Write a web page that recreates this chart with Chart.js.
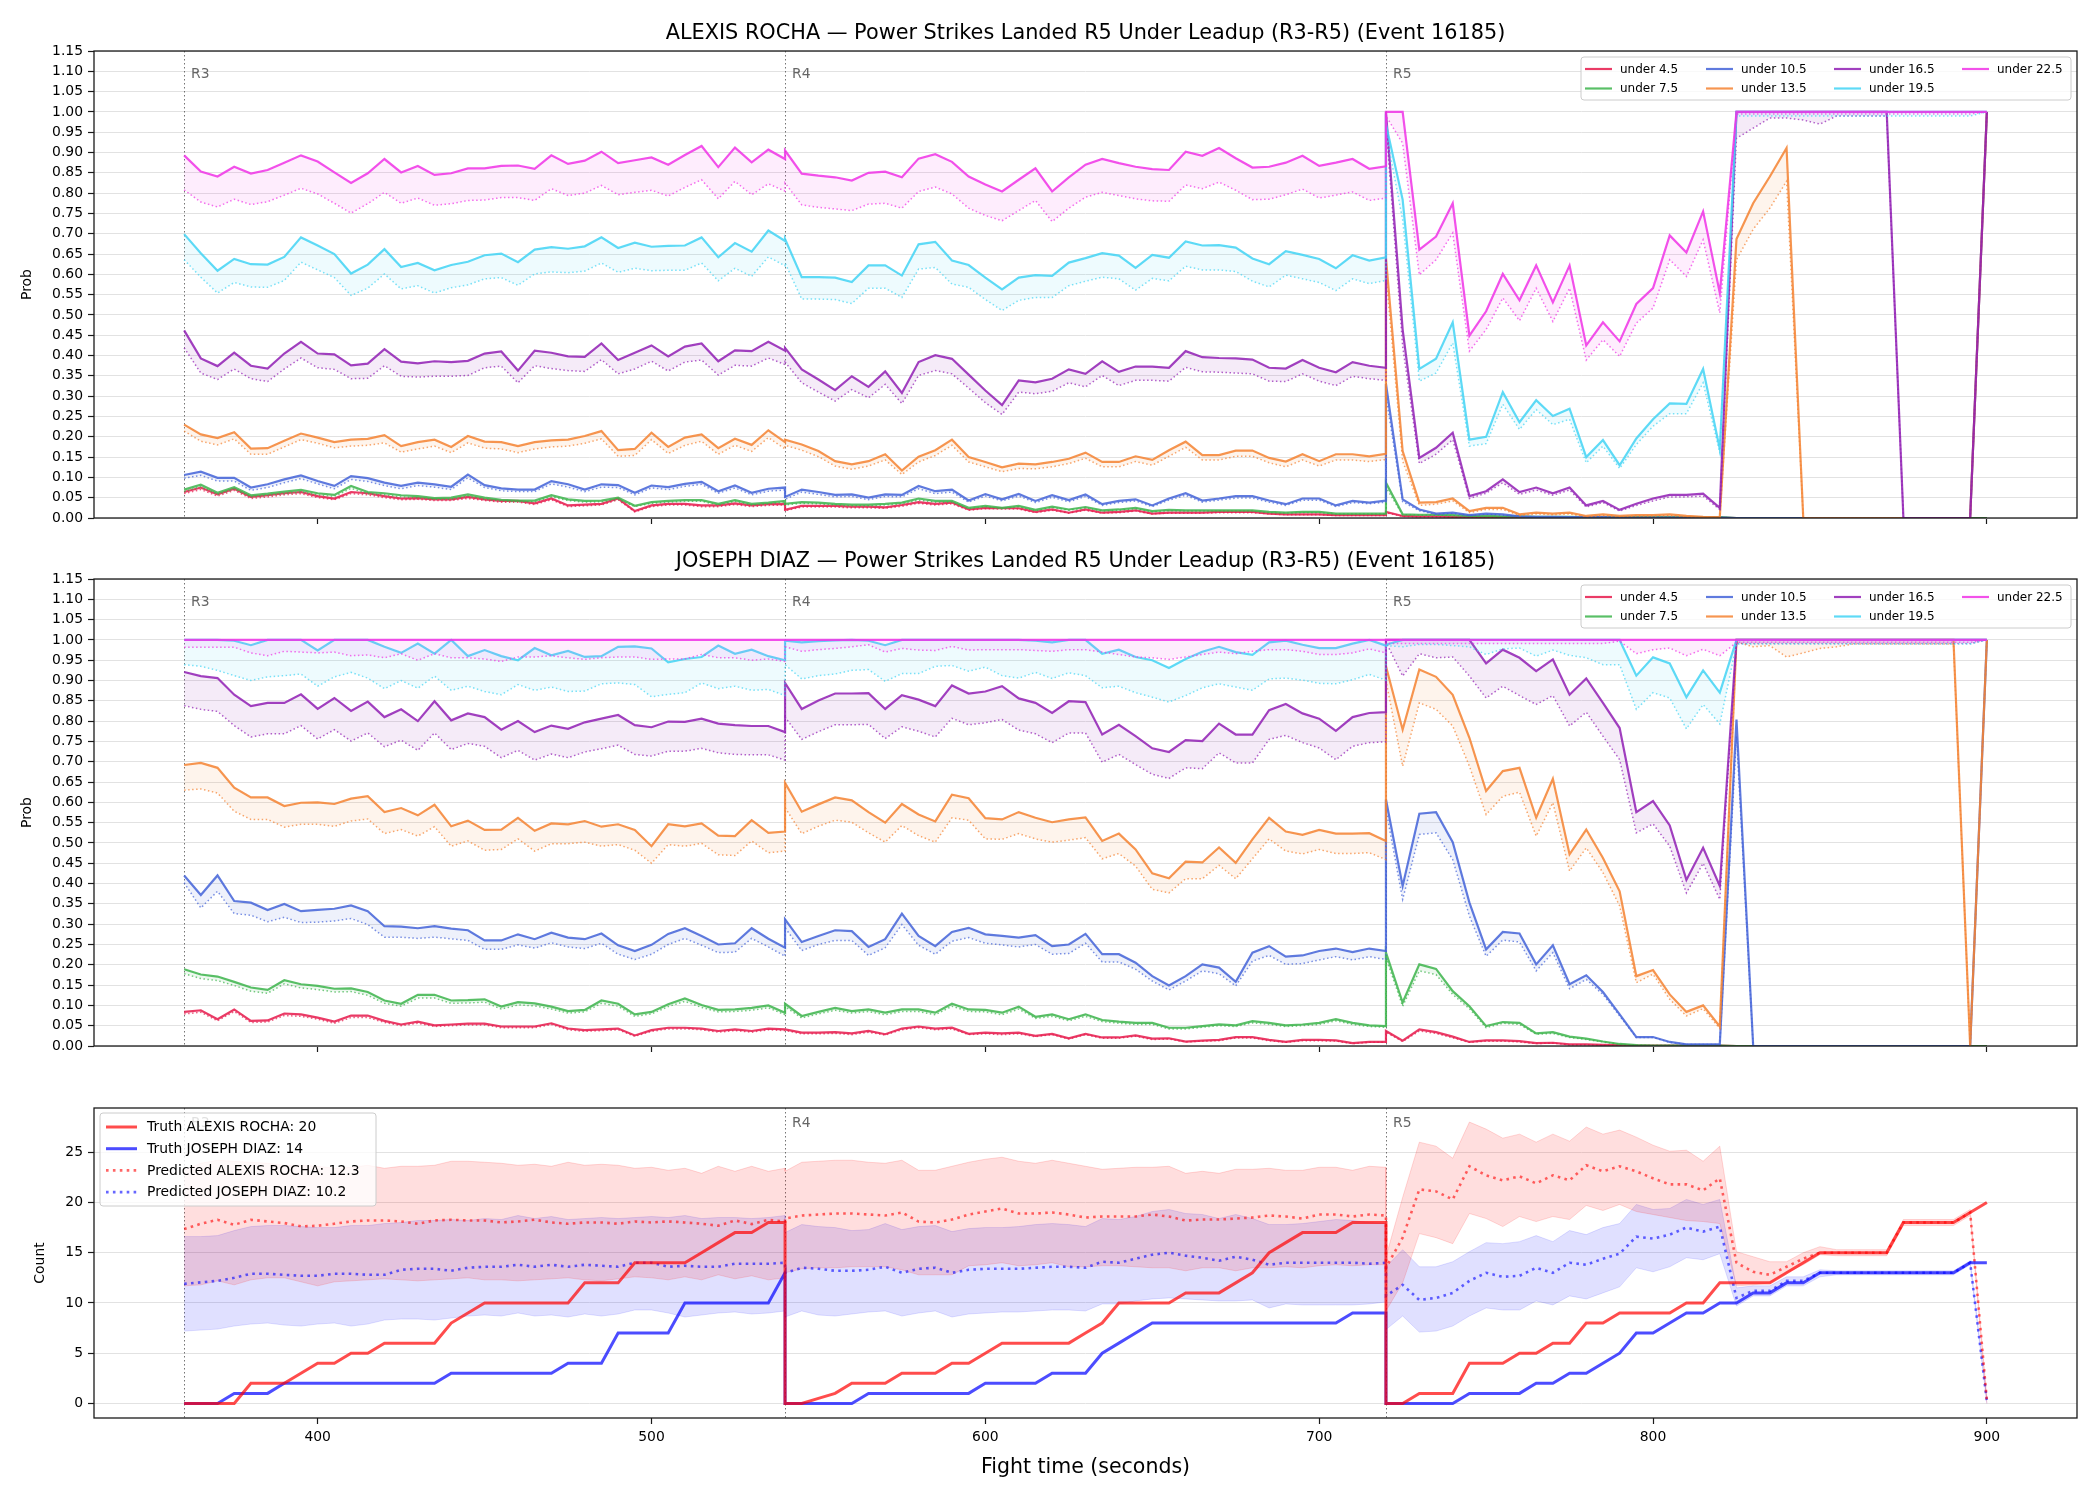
<!DOCTYPE html>
<html><head><meta charset="utf-8">
<script src="https://cdn.jsdelivr.net/npm/chart.js@4.4.0/dist/chart.umd.min.js"></script>
<style>
html,body{margin:0;padding:0;background:#fff;}
#wrap{position:relative;width:2100px;height:1500px;background:#fff;}
canvas{position:absolute;left:0;top:0;}
</style></head><body>
<div id="wrap">
<canvas id="c1" width="2100" height="1500"></canvas>
<canvas id="c2" width="2100" height="1500"></canvas>
<canvas id="c3" width="2100" height="1500"></canvas>
</div>
<script>
// ---------- categories / ticks ----------
const roundStarts = [360, 540, 720];
const roundNames = ['R3', 'R4', 'R5'];
const roundOffsets = [0,5,10,15,20,25,30,35,40,45,50,55,60,65,70,75,80,85,90,95,100,105,110,115,120,125,130,135,140,145,150,155,160,165,170,175,180];
const xTicks = [400, 500, 600, 700, 800, 900];
const probTicks = [0,0.05,0.1,0.15,0.2,0.25,0.3,0.35,0.4,0.45,0.5,0.55,0.6,0.65,0.7,0.75,0.8,0.85,0.9,0.95,1.0,1.05,1.1,1.15];
const countTicks = [0, 5, 10, 15, 20, 25];
const thresholdLabels = ['under 4.5','under 7.5','under 10.5','under 13.5','under 16.5','under 19.5','under 22.5'];

// ---------- ALEXIS ROCHA (top panel) ----------
const rocha_u4_5 = [
.064,.075,.058,.072,.052,.056,.061,.064,.054,.048,.064,.061,.054,.048,.049,.046,.046,.052,.046,.042,.042,.036,.048,.031,.033,.035,.048,.017,.031,.035,.035,.031,.031,.036,.031,.034,.035,
.020,.030,.030,.030,.028,.028,.026,.032,.039,.035,.038,.021,.025,.024,.024,.015,.021,.013,.021,.013,.015,.019,.011,.013,.013,.013,.015,.015,.015,.011,.009,.009,.009,.007,.007,.007,.007,
.015,.005,.004,.004,.003,.002,.003,.002,.002,.001,.001,.001,.001,.001,.001,.001,.001,.001,.001,.001,.001,0,0,0,0,0,0,0,0,0,0,0,0,0,0,0,0];
const rocha_u4_5_dot = [
.060,.070,.054,.068,.048,.052,.057,.060,.050,.045,.060,.057,.050,.045,.046,.043,.043,.048,.043,.039,.039,.033,.045,.028,.030,.032,.045,.015,.028,.032,.032,.028,.028,.033,.028,.031,.032,
.018,.027,.027,.027,.025,.025,.024,.029,.036,.032,.035,.019,.023,.022,.022,.013,.019,.012,.019,.012,.013,.017,.010,.012,.012,.012,.013,.013,.013,.010,.008,.008,.008,.006,.006,.006,.006,
.013,.004,.003,.003,.002,.002,.002,.001,.001,.001,.001,.001,.001,.001,.001,.001,.001,.001,.001,.001,.001,0,0,0,0,0,0,0,0,0,0,0,0,0,0,0,0];
const rocha_u7_5 = [
.070,.082,.062,.076,.056,.060,.065,.069,.061,.057,.079,.064,.061,.056,.054,.049,.050,.058,.050,.045,.043,.043,.056,.046,.042,.043,.050,.030,.039,.042,.044,.044,.035,.044,.035,.038,.042,
.035,.039,.038,.035,.033,.033,.035,.038,.048,.042,.042,.025,.030,.025,.030,.020,.028,.021,.027,.019,.021,.025,.017,.020,.019,.019,.019,.019,.019,.015,.013,.015,.015,.011,.011,.011,.011,
.087,.009,.008,.008,.007,.005,.005,.004,.004,.003,.003,.003,.002,.002,.002,.002,.002,.002,.002,.002,.002,0,0,0,0,0,0,0,0,0,0,0,0,0,0,0,0];
const rocha_u7_5_dot = [
.065,.077,.058,.071,.052,.056,.060,.064,.057,.053,.073,.060,.057,.052,.050,.046,.046,.054,.046,.042,.040,.040,.052,.043,.039,.040,.046,.028,.036,.039,.041,.041,.032,.041,.032,.035,.039,
.032,.036,.035,.032,.030,.030,.032,.035,.044,.039,.039,.023,.028,.023,.028,.018,.026,.019,.025,.017,.019,.023,.015,.018,.017,.017,.017,.017,.017,.013,.012,.013,.013,.010,.010,.010,.010,
.075,.008,.007,.007,.006,.004,.004,.003,.003,.003,.002,.002,.002,.002,.002,.002,.002,.002,.002,.002,.002,0,0,0,0,0,0,0,0,0,0,0,0,0,0,0,0];
const rocha_u10_5 = [
.106,.114,.099,.099,.075,.083,.095,.105,.091,.079,.103,.098,.087,.079,.087,.083,.077,.107,.081,.073,.070,.070,.091,.083,.070,.083,.081,.062,.080,.076,.084,.089,.066,.080,.062,.072,.075,
.052,.070,.064,.057,.058,.050,.058,.057,.079,.066,.070,.043,.059,.046,.059,.042,.056,.044,.058,.034,.042,.046,.031,.048,.061,.043,.048,.054,.054,.043,.034,.048,.048,.031,.042,.038,.043,
.330,.046,.021,.011,.013,.007,.011,.009,.004,.003,.003,.002,.002,.002,.001,.001,.001,.001,.001,.001,.001,0,0,0,0,0,0,0,0,0,0,0,0,0,0,0,1.0];
const rocha_u10_5_dot = [
.098,.105,.091,.091,.068,.075,.087,.097,.084,.072,.095,.090,.080,.072,.080,.076,.070,.099,.075,.067,.065,.065,.084,.076,.065,.076,.075,.057,.074,.070,.078,.083,.061,.074,.057,.066,.069,
.046,.064,.058,.052,.053,.045,.053,.052,.072,.060,.064,.039,.054,.042,.054,.038,.051,.040,.053,.031,.038,.042,.028,.044,.056,.039,.044,.049,.049,.039,.031,.044,.044,.028,.038,.035,.039,
.300,.040,.018,.009,.011,.006,.009,.007,.003,.003,.002,.002,.002,.001,.001,.001,.001,.001,.001,.001,.001,0,0,0,0,0,0,0,0,0,0,0,0,0,0,0,1.0];
const rocha_u13_5 = [
.230,.206,.197,.211,.171,.172,.190,.208,.198,.187,.193,.195,.204,.177,.187,.193,.175,.202,.188,.187,.177,.187,.191,.193,.202,.214,.167,.170,.210,.175,.198,.206,.172,.195,.180,.216,.187,
.193,.181,.165,.140,.132,.140,.157,.117,.151,.167,.193,.150,.138,.125,.134,.132,.138,.146,.161,.138,.138,.152,.143,.167,.188,.155,.155,.166,.166,.148,.139,.157,.140,.157,.157,.152,.158,
.640,.165,.038,.039,.048,.017,.025,.025,.009,.013,.011,.013,.005,.009,.005,.007,.007,.009,.005,.003,.002,.687,.775,.841,.911,0,0,0,0,0,0,0,0,0,0,0,1.0];
const rocha_u13_5_dot = [
.214,.189,.180,.195,.157,.157,.175,.193,.184,.173,.177,.179,.185,.162,.170,.177,.161,.185,.172,.170,.161,.170,.175,.177,.184,.195,.152,.154,.193,.159,.179,.189,.157,.179,.164,.198,.170,
.179,.167,.151,.128,.120,.128,.143,.107,.138,.154,.179,.138,.126,.114,.122,.121,.126,.134,.147,.126,.126,.139,.130,.152,.174,.143,.143,.152,.152,.136,.126,.143,.128,.143,.143,.139,.144,
.600,.140,.031,.034,.042,.013,.021,.021,.006,.010,.008,.010,.003,.006,.003,.005,.005,.006,.003,.002,.001,.636,.711,.763,.829,0,0,0,0,0,0,0,0,0,0,0,1.0];
const rocha_u16_5 = [
.462,.393,.374,.407,.375,.368,.405,.434,.405,.403,.376,.380,.416,.385,.381,.386,.384,.387,.405,.410,.363,.412,.407,.398,.397,.430,.389,.407,.425,.398,.422,.430,.386,.413,.411,.434,.412,
.419,.366,.341,.315,.349,.323,.361,.308,.384,.401,.392,.353,.314,.278,.339,.334,.343,.366,.355,.386,.360,.373,.373,.370,.411,.396,.394,.393,.390,.370,.368,.389,.370,.359,.384,.375,.370,
1.0,.464,.148,.173,.210,.054,.066,.095,.064,.075,.061,.075,.031,.042,.020,.035,.048,.057,.057,.060,.025,1.0,1.0,1.0,1.0,1.0,1.0,1.0,1.0,1.0,1.0,0,0,0,0,0,1.0];
const rocha_u16_5_dot = [
.419,.357,.341,.367,.343,.336,.367,.394,.370,.366,.343,.344,.375,.349,.347,.349,.349,.351,.370,.374,.333,.375,.368,.363,.361,.390,.355,.367,.386,.362,.384,.389,.352,.376,.374,.394,.378,
.384,.333,.310,.288,.316,.296,.329,.282,.351,.363,.355,.320,.284,.255,.310,.306,.312,.333,.323,.351,.326,.339,.339,.337,.371,.360,.359,.357,.355,.337,.336,.355,.337,.326,.349,.343,.339,
.970,.423,.134,.157,.193,.048,.061,.087,.058,.069,.056,.069,.027,.038,.017,.031,.042,.052,.052,.054,.021,.935,.960,.985,.985,.980,.970,.990,.990,.990,.990,0,0,0,0,0,1.0];
const rocha_u19_5 = [
.699,.652,.609,.638,.625,.624,.643,.691,.671,.650,.602,.624,.662,.618,.628,.610,.623,.631,.647,.651,.630,.661,.667,.663,.669,.691,.665,.678,.668,.670,.671,.691,.642,.677,.656,.708,.682,
.687,.593,.593,.592,.581,.622,.622,.597,.674,.680,.634,.623,.592,.563,.592,.598,.596,.629,.640,.652,.646,.616,.648,.641,.681,.671,.672,.666,.639,.625,.657,.648,.638,.615,.647,.634,.642,
.970,.784,.367,.392,.482,.193,.200,.310,.236,.290,.251,.269,.150,.192,.130,.196,.243,.282,.281,.367,.170,1.0,1.0,1.0,1.0,1.0,1.0,1.0,1.0,1.0,1.0,1.0,1.0,1.0,1.0,1.0,1.0];
const rocha_u19_5_dot = [
.636,.593,.554,.580,.569,.568,.585,.630,.611,.592,.548,.566,.601,.564,.572,.554,.567,.574,.589,.592,.573,.601,.606,.604,.608,.628,.605,.615,.609,.610,.610,.628,.584,.615,.595,.643,.621,
.628,.539,.539,.538,.528,.566,.566,.543,.613,.617,.576,.568,.538,.511,.536,.543,.543,.572,.583,.593,.589,.561,.590,.584,.620,.611,.611,.607,.583,.569,.598,.589,.580,.560,.589,.577,.585,
.950,.734,.337,.357,.431,.177,.183,.280,.218,.267,.230,.243,.136,.177,.122,.181,.226,.257,.257,.333,.161,.990,.990,.990,.990,.990,.990,.990,.990,.990,.990,.990,.990,.990,.990,.990,1.0];
const rocha_u22_5 = [
.893,.853,.841,.865,.848,.857,.875,.893,.878,.851,.825,.849,.884,.851,.867,.845,.849,.861,.861,.867,.868,.860,.893,.872,.880,.902,.874,.881,.888,.870,.894,.916,.864,.912,.876,.907,.884,
.905,.848,.843,.839,.831,.850,.853,.839,.885,.896,.877,.841,.821,.804,.833,.861,.804,.839,.870,.884,.874,.865,.859,.857,.902,.892,.911,.886,.863,.865,.875,.892,.867,.875,.884,.860,.866,
1.0,1.0,.661,.693,.775,.449,.509,.601,.536,.622,.531,.622,.425,.482,.435,.527,.566,.696,.654,.755,.554,1.0,1.0,1.0,1.0,1.0,1.0,1.0,1.0,1.0,1.0,1.0,1.0,1.0,1.0,1.0,1.0];
const rocha_u22_5_dot = [
.808,.778,.766,.785,.772,.779,.795,.812,.798,.775,.751,.774,.802,.775,.788,.770,.774,.782,.783,.789,.789,.782,.811,.794,.800,.819,.796,.802,.807,.793,.814,.833,.786,.829,.796,.823,.805,
.825,.771,.765,.761,.757,.773,.775,.763,.804,.815,.798,.763,.745,.732,.757,.782,.730,.763,.790,.802,.794,.786,.781,.780,.820,.811,.827,.807,.784,.785,.796,.810,.788,.795,.803,.782,.788,
.990,.923,.599,.636,.702,.411,.464,.542,.486,.566,.484,.566,.389,.439,.398,.480,.517,.636,.595,.685,.505,.995,.995,.995,.995,.995,.995,.995,.995,.995,.995,.995,.995,.995,.995,.995,1.0];

// ---------- JOSEPH DIAZ (middle panel) ----------
const diaz_u4_5 = [
.084,.088,.066,.090,.062,.063,.080,.078,.070,.060,.075,.075,.062,.053,.060,.051,.053,.055,.055,.048,.048,.048,.056,.043,.039,.041,.043,.026,.039,.045,.045,.043,.037,.041,.037,.043,.041,
.041,.033,.033,.034,.031,.037,.029,.043,.048,.043,.045,.030,.033,.031,.033,.025,.030,.019,.030,.021,.021,.026,.018,.019,.011,.013,.015,.022,.022,.015,.010,.015,.015,.014,.007,.010,.010,
.037,.013,.041,.034,.023,.010,.014,.014,.012,.007,.008,.004,.004,.003,.002,.001,.001,.001,.001,.001,.001,0,0,0,0,0,0,0,0,0,0,0,0,0,0,0,0];
const diaz_u4_5_dot = [
.079,.083,.062,.085,.058,.059,.075,.073,.066,.056,.070,.070,.058,.050,.056,.048,.050,.052,.052,.045,.045,.045,.053,.040,.036,.038,.040,.024,.036,.042,.042,.040,.034,.038,.034,.040,.038,
.038,.030,.030,.031,.028,.034,.027,.040,.045,.040,.042,.028,.030,.028,.030,.023,.028,.017,.028,.019,.019,.024,.016,.017,.010,.012,.013,.020,.020,.013,.009,.013,.013,.012,.006,.009,.009,
.034,.011,.037,.031,.020,.009,.012,.012,.010,.006,.007,.003,.003,.002,.002,.001,.001,.001,.001,.001,.001,0,0,0,0,0,0,0,0,0,0,0,0,0,0,0,0];
const diaz_u7_5 = [
.189,.176,.171,.158,.144,.138,.162,.152,.148,.141,.142,.133,.112,.104,.126,.126,.112,.113,.115,.097,.108,.105,.097,.086,.089,.112,.104,.078,.084,.103,.117,.101,.089,.090,.094,.100,.082,
.104,.074,.084,.094,.086,.090,.082,.090,.090,.082,.104,.090,.089,.082,.097,.072,.078,.066,.078,.064,.060,.057,.057,.045,.045,.049,.053,.051,.061,.057,.051,.053,.057,.066,.057,.051,.049,
.230,.107,.201,.190,.135,.098,.049,.059,.057,.031,.034,.023,.018,.011,.005,.002,.001,.001,.001,.001,.001,0,0,0,0,0,0,0,0,0,0,0,0,0,0,0,0];
const diaz_u7_5_dot = [
.178,.166,.161,.149,.135,.130,.153,.143,.139,.133,.134,.125,.105,.098,.118,.118,.105,.106,.108,.091,.101,.099,.091,.081,.084,.105,.098,.073,.079,.097,.110,.095,.084,.085,.088,.094,.077,
.097,.069,.079,.088,.081,.085,.077,.085,.085,.077,.098,.085,.084,.077,.091,.068,.073,.062,.073,.060,.056,.053,.053,.042,.042,.046,.050,.048,.057,.053,.048,.050,.053,.062,.053,.048,.046,
.217,.098,.185,.176,.127,.092,.045,.056,.053,.029,.031,.021,.016,.010,.004,.002,.001,.001,.001,.001,.001,0,0,0,0,0,0,0,0,0,0,0,0,0,0,0,0];
const diaz_u10_5 = [
.420,.372,.420,.357,.353,.335,.350,.332,.335,.338,.346,.332,.295,.294,.290,.295,.289,.285,.260,.260,.275,.263,.279,.267,.263,.277,.248,.234,.249,.276,.290,.271,.250,.253,.290,.264,.242,
.312,.256,.271,.285,.283,.244,.263,.326,.271,.246,.281,.291,.275,.271,.267,.273,.246,.250,.276,.226,.226,.205,.172,.149,.172,.201,.193,.158,.230,.246,.220,.223,.234,.240,.231,.240,.234,
.607,.394,.572,.576,.502,.353,.238,.281,.277,.201,.248,.152,.174,.133,.078,.022,.022,.010,.004,.004,.004,.804,0,0,0,0,0,0,0,0,0,0,0,0,0,0,1.0];
const diaz_u10_5_dot = [
.402,.340,.381,.326,.322,.306,.317,.304,.305,.308,.314,.299,.268,.268,.265,.268,.264,.260,.238,.238,.249,.241,.254,.244,.240,.253,.226,.213,.226,.250,.265,.248,.230,.231,.265,.244,.221,
.291,.235,.250,.260,.260,.223,.242,.299,.248,.226,.258,.267,.253,.249,.244,.250,.226,.228,.253,.207,.207,.189,.160,.138,.160,.185,.178,.148,.209,.223,.201,.203,.212,.220,.212,.220,.213,
.582,.361,.521,.525,.459,.320,.221,.261,.256,.185,.230,.141,.164,.127,.074,.021,.021,.009,.004,.004,.004,.763,0,0,0,0,0,0,0,0,0,0,0,0,0,0,1.0];
const diaz_u13_5 = [
.692,.697,.685,.636,.612,.612,.591,.599,.600,.596,.609,.615,.576,.586,.568,.594,.541,.555,.532,.533,.562,.530,.548,.546,.554,.540,.546,.532,.492,.546,.541,.548,.518,.517,.556,.525,.528,
.648,.577,.595,.612,.605,.576,.550,.596,.570,.553,.619,.610,.561,.558,.576,.562,.551,.558,.563,.505,.523,.484,.425,.413,.454,.452,.489,.451,.509,.562,.528,.520,.532,.523,.523,.524,.505,
.935,.779,.927,.909,.865,.759,.628,.677,.685,.562,.658,.472,.533,.463,.381,.172,.187,.127,.084,.100,.048,1.0,1.0,1.0,1.0,1.0,1.0,1.0,1.0,1.0,1.0,1.0,1.0,1.0,1.0,0,1.0];
const diaz_u13_5_dot = [
.630,.633,.623,.578,.558,.558,.539,.546,.546,.541,.554,.559,.523,.533,.517,.540,.492,.505,.482,.484,.510,.480,.498,.498,.502,.492,.496,.482,.450,.496,.492,.499,.471,.469,.505,.476,.480,
.587,.523,.541,.556,.551,.525,.502,.543,.518,.502,.562,.556,.510,.509,.523,.510,.502,.507,.513,.461,.474,.443,.386,.377,.412,.412,.445,.412,.461,.510,.480,.473,.484,.474,.474,.476,.459,
.900,.689,.845,.829,.788,.689,.570,.615,.625,.517,.599,.431,.488,.427,.345,.156,.177,.115,.074,.092,.043,.995,.983,.986,.958,.968,.979,.983,.990,.990,.990,.990,.990,.990,.990,0,1.0];
const diaz_u16_5 = [
.921,.911,.906,.865,.837,.845,.845,.866,.830,.857,.825,.848,.810,.829,.800,.849,.802,.819,.810,.779,.800,.773,.789,.781,.797,.806,.815,.790,.785,.799,.798,.806,.794,.790,.788,.788,.773,
.894,.830,.851,.868,.868,.869,.830,.864,.853,.837,.888,.868,.873,.886,.856,.845,.820,.849,.847,.767,.791,.763,.733,.724,.753,.751,.794,.767,.767,.827,.842,.819,.806,.776,.810,.820,.822,
1.0,1.0,1.0,1.0,1.0,1.0,.942,.976,.956,.923,.952,.865,.905,.845,.783,.576,.603,.543,.409,.488,.394,1.0,1.0,1.0,1.0,1.0,1.0,1.0,1.0,1.0,1.0,1.0,1.0,1.0,1.0,1.0,1.0];
const diaz_u16_5_dot = [
.838,.829,.824,.789,.761,.769,.769,.789,.756,.779,.751,.771,.737,.753,.728,.771,.730,.745,.738,.710,.728,.704,.719,.710,.724,.732,.741,.718,.714,.726,.726,.733,.722,.718,.717,.717,.704,
.810,.755,.774,.791,.791,.792,.757,.786,.775,.761,.807,.791,.796,.804,.778,.769,.747,.771,.771,.699,.718,.693,.669,.659,.685,.683,.722,.697,.697,.755,.765,.747,.734,.705,.738,.747,.749,
.995,.911,.966,.956,.958,.911,.857,.886,.863,.841,.863,.788,.822,.763,.705,.525,.547,.492,.377,.450,.361,.991,.991,.991,.991,.991,.991,.991,.991,.991,.991,.991,.991,.991,.991,.991,1.0];
const diaz_u19_5 = [
1,1,1,.998,.987,1,1,1,.974,1,1,1,.983,.968,.991,.966,1,.960,.975,.960,.950,.980,.962,.973,.958,.960,.983,.984,.979,.945,.953,.958,.986,.966,.976,.960,.950,
.998,.994,.997,.999,1,.998,.987,1,1,1,1,1,1,1,1,.998,.994,1,1,.966,.976,.958,.950,.931,.953,.971,.983,.970,.963,.994,.998,.988,.980,.980,.991,1,.986,
.988,1,1,1,1,1,1,1,1,1,1,1,1,1,1,.912,.957,.942,.859,.925,.870,1,1,1,1,1,1,1,1,1,1,1,1,1,1,1,1];
const diaz_u19_5_dot = [
.939,.935,.925,.912,.900,.909,.912,.916,.886,.909,.920,.906,.880,.900,.881,.911,.876,.886,.873,.865,.890,.876,.884,.873,.874,.892,.894,.890,.860,.866,.870,.894,.880,.886,.876,.878,.863,
.939,.904,.912,.916,.925,.927,.898,.917,.917,.935,.937,.923,.933,.912,.906,.920,.905,.919,.912,.882,.886,.870,.859,.847,.863,.882,.892,.884,.876,.904,.906,.901,.893,.892,.902,.915,.901,
.986,.983,.989,.989,.986,.983,.964,.978,.980,.960,.975,.962,.956,.939,.939,.829,.870,.857,.781,.841,.793,.990,.990,.990,.990,.990,.990,.990,.990,.990,.990,.990,.990,.990,.990,.990,1.0];
const diaz_u22_5 = [
1,1,1,1,1,1,1,1,1,1,1,1,1,1,1,1,1,1,1,1,1,1,1,1,1,1,1,1,1,1,1,1,1,1,1,1,1,
1,1,1,1,1,1,1,1,1,1,1,1,1,1,1,1,1,1,1,1,1,1,1,1,1,1,1,1,1,1,1,1,1,1,1,1,1,
1,1,1,1,1,1,1,1,1,1,1,1,1,1,1,1,1,1,1,1,1,1,1,1,1,1,1,1,1,1,1,1,1,1,1,1,1];
const diaz_u22_5_dot = [
.982,.982,.982,.982,.968,.961,.972,.970,.968,.970,.961,.963,.956,.966,.950,.966,.956,.956,.953,.947,.958,.958,.961,.956,.952,.956,.958,.958,.952,.953,.953,.964,.956,.956,.950,.953,.947,
.983,.972,.976,.979,.983,.988,.970,.979,.975,.974,.984,.975,.976,.976,.976,.974,.972,.976,.976,.970,.964,.958,.956,.952,.958,.964,.970,.966,.972,.976,.976,.972,.964,.964,.968,.978,.968,
.991,.991,.991,.991,.991,.991,.991,.991,.991,.991,.991,.991,.991,.991,.997,.966,.976,.980,.961,.977,.961,.994,.994,.994,.994,.994,.994,.994,.994,.994,.994,.994,.994,.994,.994,.994,1.0];

// ---------- Counts (bottom panel) ----------
const rochaTruth = [
0,0,0,0,2,2,2,3,4,4,5,5,6,6,6,6,8,9,10,10,10,10,10,10,12,12,12,14,14,14,14,15,16,17,17,18,18,
0,0,0.5,1,2,2,2,3,3,3,4,4,5,6,6,6,6,6,7,8,10,10,10,10,11,11,11,12,13,15,16,17,17,17,18,18,18,
0,0,1,1,1,4,4,4,5,5,6,6,8,8,9,9,9,9,10,10,12,12,12,12,13,14,15,15,15,15,15,18,18,18,18,19,20];
const diazTruth = [
0,0,0,1,1,1,2,2,2,2,2,2,2,2,2,2,3,3,3,3,3,3,3,4,4,4,7,7,7,7,10,10,10,10,10,10,13,
0,0,0,0,0,1,1,1,1,1,1,1,2,2,2,2,3,3,3,5,6,7,8,8,8,8,8,8,8,8,8,8,8,8,9,9,9,
0,0,0,0,0,1,1,1,1,2,2,3,3,4,5,7,7,8,9,9,10,10,11,11,12,12,13,13,13,13,13,13,13,13,13,14,14];
const rochaPred = [
17.35,17.88,18.28,17.78,18.28,18.11,17.95,17.62,17.68,17.88,18.11,18.21,18.21,18.11,17.88,18.21,18.28,18.21,18.21,18.01,18.11,18.28,18.01,17.88,18.01,18.01,17.88,18.11,18.01,18.11,18.01,17.88,17.68,18.21,17.85,18.28,18.11,
18.4,18.7,18.8,18.9,18.9,18.8,18.7,19.0,18.1,18.0,18.3,18.8,19.1,19.4,18.9,18.9,19.0,18.8,18.5,18.6,18.6,18.6,18.8,18.6,18.2,18.3,18.3,18.4,18.5,18.7,18.6,18.4,18.8,18.8,18.6,18.8,18.7,
13.5,16.5,21.3,21.1,20.3,23.6,22.7,22.2,22.6,21.9,22.7,22.2,23.7,23.1,23.6,23.1,22.4,21.8,21.8,21.2,22.4,14.0,13.1,12.8,13.6,14.4,15.0,15.0,15.0,15.0,15.0,18.0,18.0,18.0,18.0,19.0,0.3];
const diazPred = [
11.9,12.05,12.2,12.5,12.9,12.9,12.8,12.7,12.7,12.9,12.9,12.8,12.8,13.3,13.4,13.4,13.2,13.5,13.6,13.6,13.8,13.6,13.8,13.6,13.8,13.7,13.6,14.0,14.0,13.6,13.7,13.6,13.6,13.9,13.9,13.9,14.0,
13.0,13.5,13.4,13.2,13.2,13.3,13.6,13.0,13.4,13.5,13.0,13.3,13.4,13.4,13.4,13.5,13.6,13.6,13.5,14.1,14.0,14.4,14.8,15.0,14.7,14.5,14.2,14.6,14.3,13.8,14.0,14.0,14.0,14.0,14.0,13.9,14.0,
10.7,11.8,10.3,10.5,11.0,12.2,13.0,12.6,12.7,13.5,13.0,14.0,13.8,14.4,14.9,16.6,16.4,16.8,17.5,17.1,17.6,10.5,11.2,11.2,12.2,12.2,13.0,13.0,13.0,13.0,13.0,13.0,13.0,13.0,13.0,14.0,0.2];
const rochaUpper = [
23.2,23.9,24.2,24.1,24.0,23.9,23.7,23.7,23.6,23.4,23.5,23.7,23.4,23.6,23.6,23.7,24.1,24.1,24.0,23.9,23.7,23.8,23.6,24.0,23.7,23.8,23.7,23.4,23.5,23.2,23.4,22.9,23.6,23.1,23.6,23.1,23.4,
23.1,24.0,24.1,24.2,24.2,24.0,23.9,24.2,23.2,23.2,23.6,24.0,24.3,24.5,24.1,23.9,24.2,23.9,23.6,23.3,23.4,23.5,23.5,23.6,22.9,23.1,22.9,23.3,23.3,23.4,23.2,23.2,23.5,23.5,23.2,23.6,23.5,
14.6,20.5,26.0,25.6,24.4,28.0,27.3,26.4,26.8,26.0,26.8,26.1,27.5,26.8,27.2,26.5,25.7,25.1,25.2,24.1,25.6,15.1,14.6,14.1,14.1,15.0,15.6,15.3,15.3,15.3,15.3,18.3,18.3,18.3,18.3,19.3,0.6];
const rochaLower = [
11.7,11.8,12.2,11.8,12.3,12.5,12.5,12.1,11.7,12.1,12.2,12.3,12.4,12.3,12.2,12.3,12.4,12.5,12.3,12.3,12.2,12.3,12.4,12.5,12.3,12.2,12.4,12.6,12.5,12.3,12.6,12.3,12.8,12.4,12.7,12.3,12.5,
13.0,13.4,13.5,13.5,13.6,13.6,13.6,13.3,12.8,12.8,12.8,13.7,13.8,14.0,13.7,13.8,14.0,13.6,13.6,13.7,13.7,13.6,13.5,13.5,13.2,13.5,13.5,13.2,13.5,13.5,13.6,13.5,13.7,13.8,13.7,13.8,13.8,
9.2,12.0,16.9,16.5,15.9,18.9,18.4,17.6,18.6,18.1,18.6,18.3,19.7,19.2,19.8,19.1,18.8,18.5,18.2,18.1,17.9,11.7,11.8,12.0,13.0,13.8,14.8,14.7,14.7,14.7,14.7,17.7,17.7,17.7,17.7,18.7,0];
const diazUpper = [
16.6,16.6,16.7,17.2,17.6,17.7,17.7,17.6,17.5,17.5,17.7,17.7,17.9,18.0,18.2,18.2,18.3,18.2,18.4,18.3,18.7,18.4,18.6,18.3,18.4,18.5,18.4,18.5,18.6,18.5,18.7,18.4,18.5,18.5,18.4,18.5,18.7,
17.0,17.8,17.6,17.5,17.2,17.3,17.9,17.3,17.6,17.7,17.1,17.4,17.5,17.5,17.6,17.8,17.9,17.8,17.6,18.4,18.3,18.6,19.1,19.3,18.9,18.8,18.4,18.8,18.4,17.8,17.8,17.9,18.1,18.3,18.2,18.0,17.9,
13.6,15.3,13.6,13.6,14.1,15.1,16.0,15.9,16.1,16.7,16.1,17.2,16.8,17.5,17.9,19.8,19.3,19.4,20.3,19.8,20.3,11.5,11.7,11.7,12.6,12.6,13.3,13.2,13.2,13.2,13.2,13.2,13.2,13.2,13.2,14.2,0.4];
const diazLower = [
7.2,7.3,7.4,7.7,7.9,8.0,7.8,7.7,7.9,8.0,7.7,7.9,8.3,8.4,8.4,8.3,8.5,8.7,8.8,8.7,9.0,8.7,8.8,8.6,8.9,8.7,8.9,9.3,9.3,9.0,8.6,8.8,9.0,9.1,8.9,9.0,9.2,
8.6,9.2,8.8,8.7,8.9,9.1,9.2,8.7,9.0,9.2,8.6,8.9,9.0,9.1,9.1,9.2,9.3,9.3,9.2,9.9,9.9,10.2,10.4,10.5,10.4,10.3,10.2,10.2,10.3,9.5,9.9,9.8,9.8,9.8,9.8,9.9,10.1,
7.35,8.7,7.1,7.2,7.7,8.7,9.5,9.3,9.3,10.2,9.8,10.7,10.4,11.0,11.6,13.5,13.1,13.6,14.5,14.3,14.9,9.7,10.7,10.7,11.7,11.7,12.6,12.8,12.8,12.8,12.8,12.8,12.8,12.8,12.8,13.8,0];

// ---------- checks ----------
const allSeries = {rocha_u4_5,rocha_u4_5_dot,rocha_u7_5,rocha_u7_5_dot,rocha_u10_5,rocha_u10_5_dot,rocha_u13_5,rocha_u13_5_dot,rocha_u16_5,rocha_u16_5_dot,rocha_u19_5,rocha_u19_5_dot,rocha_u22_5,rocha_u22_5_dot,
diaz_u4_5,diaz_u4_5_dot,diaz_u7_5,diaz_u7_5_dot,diaz_u10_5,diaz_u10_5_dot,diaz_u13_5,diaz_u13_5_dot,diaz_u16_5,diaz_u16_5_dot,diaz_u19_5,diaz_u19_5_dot,diaz_u22_5,diaz_u22_5_dot,
rochaTruth,diazTruth,rochaPred,diazPred,rochaUpper,rochaLower,diazUpper,diazLower};
for (const [k, v] of Object.entries(allSeries)) { if (v.length !== 111) throw new Error(k + ' has length ' + v.length); }

// ---------- helpers ----------
const times = roundStarts.flatMap(s => roundOffsets.map(o => s + o));
const pts = arr => arr.map((y, i) => ({x: times[i], y}));
const FONT = '"DejaVu Sans", "Liberation Sans", sans-serif';
const palette = ['#e6194b','#3cb44b','#4363d8','#f58231','#911eb4','#42d4f4','#f032e6'];
function rgba(hex, a) {
  const n = parseInt(hex.slice(1), 16);
  return `rgba(${(n>>16)&255},${(n>>8)&255},${n&255},${a})`;
}

function decor(opts) {
  return {
    id: 'decor_' + opts.key,
    beforeDatasetsDraw(chart) {
      const {ctx, chartArea: a, scales: {x}} = chart;
      ctx.save();
      roundStarts.forEach((t, i) => {
        const px = Math.round(x.getPixelForValue(t)) + 0.5;
        ctx.strokeStyle = 'rgba(70,70,70,0.75)'; ctx.lineWidth = 1; ctx.setLineDash([1.5, 2.5]);
        ctx.beginPath(); ctx.moveTo(px, a.top); ctx.lineTo(px, a.bottom); ctx.stroke();
        ctx.setLineDash([]);
        ctx.fillStyle = 'rgba(85,85,85,0.9)'; ctx.font = '13.9px ' + FONT;
        ctx.textBaseline = 'middle'; ctx.textAlign = 'left';
        ctx.fillText(roundNames[i], px + 6.5, a.top + 0.05 * (a.bottom - a.top));
      });
      ctx.restore();
    },
    afterDraw(chart) {
      const {ctx, chartArea: a} = chart;
      ctx.save();
      ctx.strokeStyle = '#1a1a1a'; ctx.lineWidth = 1.3;
      ctx.strokeRect(a.left, a.top, a.right - a.left, a.bottom - a.top);
      if (opts.title) {
        ctx.fillStyle = '#000'; ctx.font = '20.8px ' + FONT; ctx.textAlign = 'center'; ctx.textBaseline = 'middle';
        ctx.fillText(opts.title, (a.left + a.right) / 2, a.top - 17);
      }
      ctx.save();
      ctx.translate(opts.ylabelX, (a.top + a.bottom) / 2); ctx.rotate(-Math.PI / 2);
      ctx.fillStyle = '#000'; ctx.font = '13.9px ' + FONT; ctx.textAlign = 'center'; ctx.textBaseline = 'middle';
      ctx.fillText(opts.ylabel, 0, 0);
      ctx.restore();
      if (opts.xlabel) {
        ctx.fillStyle = '#000'; ctx.font = '20.5px ' + FONT; ctx.textAlign = 'center'; ctx.textBaseline = 'middle';
        ctx.fillText(opts.xlabel, (a.left + a.right) / 2, a.bottom + 50);
      }
      if (opts.legend === 'prob') {
        const w = 490, h = 43, x0 = a.right - 6 - w, y0 = a.top + 6;
        roundBox(ctx, x0, y0, w, h);
        const colLine = [4, 125, 253, 381];
        ctx.font = '12px ' + FONT; ctx.textBaseline = 'middle'; ctx.textAlign = 'left';
        thresholdLabels.forEach((lab, i) => {
          const c = Math.floor(i / 2), r = i % 2;
          const lx = x0 + colLine[c], ly = y0 + 12 + r * 19.5;
          ctx.strokeStyle = rgba(palette[i], 0.85); ctx.lineWidth = 2.2;
          ctx.beginPath(); ctx.moveTo(lx, ly); ctx.lineTo(lx + 27, ly); ctx.stroke();
          ctx.fillStyle = '#000'; ctx.fillText(lab, lx + 35, ly + 0.5);
        });
      } else if (opts.legend === 'count') {
        const w = 276, h = 93, x0 = a.left + 6, y0 = a.top + 5;
        roundBox(ctx, x0, y0, w, h);
        const items = [
          ['Truth ALEXIS ROCHA: 20', 'rgba(255,0,0,0.7)', false],
          ['Truth JOSEPH DIAZ: 14', 'rgba(0,0,255,0.7)', false],
          ['Predicted ALEXIS ROCHA: 12.3', 'rgba(255,0,0,0.6)', true],
          ['Predicted JOSEPH DIAZ: 10.2', 'rgba(0,0,255,0.6)', true]];
        ctx.font = '13.9px ' + FONT; ctx.textBaseline = 'middle'; ctx.textAlign = 'left';
        items.forEach((it, i) => {
          const ly = y0 + 14 + i * 21.7;
          ctx.strokeStyle = it[1]; ctx.lineWidth = it[2] ? 2.6 : 3;
          ctx.setLineDash(it[2] ? [2.6, 4.3] : []);
          ctx.beginPath(); ctx.moveTo(x0 + 6, ly); ctx.lineTo(x0 + 37, ly); ctx.stroke();
          ctx.setLineDash([]);
          ctx.fillStyle = '#000'; ctx.fillText(it[0], x0 + 47, ly + 0.5);
        });
      }
      ctx.restore();
    }
  };
}
function roundBox(ctx, x, y, w, h) {
  const r = 3;
  ctx.beginPath();
  ctx.moveTo(x + r, y); ctx.lineTo(x + w - r, y); ctx.quadraticCurveTo(x + w, y, x + w, y + r);
  ctx.lineTo(x + w, y + h - r); ctx.quadraticCurveTo(x + w, y + h, x + w - r, y + h);
  ctx.lineTo(x + r, y + h); ctx.quadraticCurveTo(x, y + h, x, y + h - r);
  ctx.lineTo(x, y + r); ctx.quadraticCurveTo(x, y, x + r, y);
  ctx.closePath();
  ctx.fillStyle = 'rgba(255,255,255,0.8)'; ctx.fill();
  ctx.strokeStyle = '#cccccc'; ctx.lineWidth = 1; ctx.stroke();
}

function xScale(showLabels, height) {
  return {
    type: 'linear', min: 333, max: 927,
    afterBuildTicks: s => { s.ticks = xTicks.map(v => ({value: v})); },
    afterFit: s => { s.height = height; },
    grid: {drawOnChartArea: false, drawTicks: true, tickLength: 6, tickColor: '#1a1a1a', tickWidth: 1.2},
    border: {display: false},
    ticks: {display: showLabels, color: '#000', font: {family: FONT, size: 13.9}, padding: 5, maxRotation: 0, autoSkip: false}
  };
}
function yScale(min, max, tickVals, fmt) {
  return {
    min, max,
    afterBuildTicks: s => { s.ticks = tickVals.map(v => ({value: v})); },
    afterFit: s => { s.width = 94; },
    grid: {color: '#e2e2e2', lineWidth: 1, drawTicks: true, tickLength: 6, tickColor: '#1a1a1a', tickWidth: 1.2},
    border: {display: false},
    ticks: {color: '#000', font: {family: FONT, size: 13.9}, padding: 5, callback: fmt, autoSkip: false}
  };
}

function probChart(id, title, solids, dots, padTop, chartBottom, key) {
  const datasets = [];
  for (let k = solids.length - 1; k >= 0; k--) {
    datasets.push({label: thresholdLabels[k], data: pts(solids[k]), borderColor: rgba(palette[k], 0.85),
      borderWidth: 2.2, pointRadius: 0, tension: 0, fill: '+1', backgroundColor: rgba(palette[k], 0.09)});
    datasets.push({label: thresholdLabels[k] + ' (dotted)', data: pts(dots[k]), borderColor: rgba(palette[k], 0.7),
      borderWidth: 1.5, borderDash: [1.5, 2.5], pointRadius: 0, tension: 0, fill: false});
  }
  const axisH = 10;
  return new Chart(document.getElementById(id), {
    type: 'line',
    data: {datasets},
    options: {
      responsive: false, animation: false, devicePixelRatio: 1,
      layout: {padding: {left: 0, right: 23, top: padTop, bottom: 1500 - chartBottom - axisH}},
      plugins: {legend: {display: false}, tooltip: {enabled: false}},
      scales: {x: xScale(false, axisH), y: yScale(0, 1.15, probTicks, v => Number(v).toFixed(2))}
    },
    plugins: [decor({key, title, ylabel: 'Prob', ylabelX: 27, legend: 'prob'})]
  });
}

probChart('c1', 'ALEXIS ROCHA \u2014 Power Strikes Landed R5 Under Leadup (R3-R5) (Event 16185)',
  [rocha_u4_5, rocha_u7_5, rocha_u10_5, rocha_u13_5, rocha_u16_5, rocha_u19_5, rocha_u22_5],
  [rocha_u4_5_dot, rocha_u7_5_dot, rocha_u10_5_dot, rocha_u13_5_dot, rocha_u16_5_dot, rocha_u19_5_dot, rocha_u22_5_dot],
  51, 518, 'a');
probChart('c2', 'JOSEPH DIAZ \u2014 Power Strikes Landed R5 Under Leadup (R3-R5) (Event 16185)',
  [diaz_u4_5, diaz_u7_5, diaz_u10_5, diaz_u13_5, diaz_u16_5, diaz_u19_5, diaz_u22_5],
  [diaz_u4_5_dot, diaz_u7_5_dot, diaz_u10_5_dot, diaz_u13_5_dot, diaz_u16_5_dot, diaz_u19_5_dot, diaz_u22_5_dot],
  579, 1046, 'b');

(function () {
  const axisH = 70, chartBottom = 1418;
  const datasets = [
    {label: 'Truth ALEXIS ROCHA: 20', data: pts(rochaTruth), borderColor: 'rgba(255,0,0,0.7)', borderWidth: 3, pointRadius: 0, fill: false},
    {label: 'Truth JOSEPH DIAZ: 14', data: pts(diazTruth), borderColor: 'rgba(0,0,255,0.7)', borderWidth: 3, pointRadius: 0, fill: false},
    {label: 'Predicted ALEXIS ROCHA: 12.3', data: pts(rochaPred), borderColor: 'rgba(255,0,0,0.6)', borderWidth: 2.6, borderDash: [2.6, 4.3], pointRadius: 0, fill: false},
    {label: 'Predicted JOSEPH DIAZ: 10.2', data: pts(diazPred), borderColor: 'rgba(0,0,255,0.6)', borderWidth: 2.6, borderDash: [2.6, 4.3], pointRadius: 0, fill: false},
    {label: 'ALEXIS band', data: pts(rochaUpper), borderColor: 'rgba(255,0,0,0.15)', borderWidth: 1, pointRadius: 0, fill: '+1', backgroundColor: 'rgba(255,0,0,0.13)'},
    {label: 'ALEXIS band low', data: pts(rochaLower), borderColor: 'rgba(255,0,0,0.15)', borderWidth: 1, pointRadius: 0, fill: false},
    {label: 'DIAZ band', data: pts(diazUpper), borderColor: 'rgba(0,0,255,0.12)', borderWidth: 1, pointRadius: 0, fill: '+1', backgroundColor: 'rgba(0,0,255,0.12)'},
    {label: 'DIAZ band low', data: pts(diazLower), borderColor: 'rgba(0,0,255,0.12)', borderWidth: 1, pointRadius: 0, fill: false}
  ];
  new Chart(document.getElementById('c3'), {
    type: 'line',
    data: {datasets},
    options: {
      responsive: false, animation: false, devicePixelRatio: 1,
      layout: {padding: {left: 0, right: 23, top: 1108, bottom: 1500 - chartBottom - axisH}},
      plugins: {legend: {display: false}, tooltip: {enabled: false}},
      scales: {x: xScale(true, axisH), y: yScale(-1.45, 29.4, countTicks, v => String(v))}
    },
    plugins: [decor({key: 'c', title: null, ylabel: 'Count', ylabelX: 40, legend: 'count', xlabel: 'Fight time (seconds)'})]
  });
})();
</script>
</body></html>
